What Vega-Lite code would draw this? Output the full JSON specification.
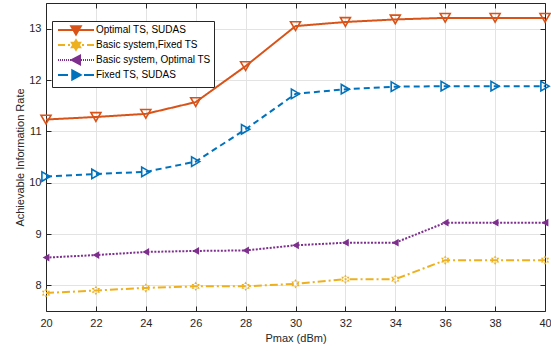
{
  "$schema": "https://vega.github.io/schema/vega-lite/v6.json",
  "width": 499,
  "height": 308,
  "autosize": "none",
  "padding": {"left": 46, "top": 3, "right": 6, "bottom": 40},
  "background": "white",
  "config": {
    "view": {"stroke": null},
    "font": "Liberation Sans",
    "axis": {
      "labelFont": "Liberation Sans",
      "titleFont": "Liberation Sans",
      "labelFontSize": 11,
      "titleFontSize": 11,
      "titleFontWeight": "normal",
      "labelColor": "#262626",
      "titleColor": "#262626",
      "domainColor": "#262626",
      "tickColor": "#262626",
      "gridColor": "#e3e3e3",
      "gridWidth": 1,
      "domainWidth": 1,
      "tickWidth": 1
    },
    "legend": {"strokeColor": "#262626", "fillColor": "white", "padding": 3}
  },
  "data": {
    "values": [
      {"p": 20, "rate": 11.23, "series": "Optimal TS, SUDAS"},
      {"p": 22, "rate": 11.28, "series": "Optimal TS, SUDAS"},
      {"p": 24, "rate": 11.34, "series": "Optimal TS, SUDAS"},
      {"p": 26, "rate": 11.57, "series": "Optimal TS, SUDAS"},
      {"p": 28, "rate": 12.27, "series": "Optimal TS, SUDAS"},
      {"p": 30, "rate": 13.05, "series": "Optimal TS, SUDAS"},
      {"p": 32, "rate": 13.13, "series": "Optimal TS, SUDAS"},
      {"p": 34, "rate": 13.18, "series": "Optimal TS, SUDAS"},
      {"p": 36, "rate": 13.21, "series": "Optimal TS, SUDAS"},
      {"p": 38, "rate": 13.21, "series": "Optimal TS, SUDAS"},
      {"p": 40, "rate": 13.21, "series": "Optimal TS, SUDAS"},
      {"p": 20, "rate": 7.85, "series": "Basic system,Fixed TS"},
      {"p": 22, "rate": 7.9, "series": "Basic system,Fixed TS"},
      {"p": 24, "rate": 7.95, "series": "Basic system,Fixed TS"},
      {"p": 26, "rate": 7.98, "series": "Basic system,Fixed TS"},
      {"p": 28, "rate": 7.98, "series": "Basic system,Fixed TS"},
      {"p": 30, "rate": 8.03, "series": "Basic system,Fixed TS"},
      {"p": 32, "rate": 8.12, "series": "Basic system,Fixed TS"},
      {"p": 34, "rate": 8.12, "series": "Basic system,Fixed TS"},
      {"p": 36, "rate": 8.49, "series": "Basic system,Fixed TS"},
      {"p": 38, "rate": 8.49, "series": "Basic system,Fixed TS"},
      {"p": 40, "rate": 8.49, "series": "Basic system,Fixed TS"},
      {"p": 20, "rate": 8.54, "series": "Basic system, Optimal TS"},
      {"p": 22, "rate": 8.59, "series": "Basic system, Optimal TS"},
      {"p": 24, "rate": 8.65, "series": "Basic system, Optimal TS"},
      {"p": 26, "rate": 8.67, "series": "Basic system, Optimal TS"},
      {"p": 28, "rate": 8.68, "series": "Basic system, Optimal TS"},
      {"p": 30, "rate": 8.78, "series": "Basic system, Optimal TS"},
      {"p": 32, "rate": 8.83, "series": "Basic system, Optimal TS"},
      {"p": 34, "rate": 8.83, "series": "Basic system, Optimal TS"},
      {"p": 36, "rate": 9.22, "series": "Basic system, Optimal TS"},
      {"p": 38, "rate": 9.22, "series": "Basic system, Optimal TS"},
      {"p": 40, "rate": 9.22, "series": "Basic system, Optimal TS"},
      {"p": 20, "rate": 10.12, "series": "Fixed TS, SUDAS"},
      {"p": 22, "rate": 10.17, "series": "Fixed TS, SUDAS"},
      {"p": 24, "rate": 10.21, "series": "Fixed TS, SUDAS"},
      {"p": 26, "rate": 10.41, "series": "Fixed TS, SUDAS"},
      {"p": 28, "rate": 11.04, "series": "Fixed TS, SUDAS"},
      {"p": 30, "rate": 11.73, "series": "Fixed TS, SUDAS"},
      {"p": 32, "rate": 11.82, "series": "Fixed TS, SUDAS"},
      {"p": 34, "rate": 11.87, "series": "Fixed TS, SUDAS"},
      {"p": 36, "rate": 11.88, "series": "Fixed TS, SUDAS"},
      {"p": 38, "rate": 11.88, "series": "Fixed TS, SUDAS"},
      {"p": 40, "rate": 11.88, "series": "Fixed TS, SUDAS"}
    ]
  },
  "encoding": {
    "x": {"field": "p", "type": "quantitative", "scale": {"domain": [20, 40], "nice": false, "zero": false}},
    "y": {"field": "rate", "type": "quantitative", "scale": {"domain": [7.5, 13.5], "nice": false, "zero": false}}
  },
  "layer": [
    {
      "mark": {"type": "line", "strokeWidth": 2},
      "encoding": {
        "x": {"field": "p", "type": "quantitative", "axis": {"orient": "bottom", "title": "Pmax (dBm)", "values": [20,22,24,26,28,30,32,34,36,38,40], "tickSize": -5, "labelPadding": 11, "titlePadding": 4, "grid": true, "labelFlush": false}},
        "y": {"field": "rate", "type": "quantitative", "axis": {"orient": "left", "title": "Achievable Information Rate", "values": [8,9,10,11,12,13], "tickSize": -5, "labelPadding": 10, "titlePadding": 3, "grid": true}},
        "stroke": {"field": "series", "type": "nominal", "legend": null, "scale": {"domain": ["Optimal TS, SUDAS", "Basic system,Fixed TS", "Basic system, Optimal TS", "Fixed TS, SUDAS"], "range": ["#D95319", "#EDB120", "#7E2F8E", "#0072BD"]}},
        "strokeDash": {"field": "series", "type": "nominal", "legend": null, "scale": {"domain": ["Optimal TS, SUDAS", "Basic system,Fixed TS", "Basic system, Optimal TS", "Fixed TS, SUDAS"], "range": [[1, 0], [8, 3, 2, 3], [2, 1.5], [6, 4]]}}
      }
    },
    {
      "transform": [{"filter": "datum.series == 'Optimal TS, SUDAS'"}],
      "mark": {"type": "point", "shape": "triangle-down", "size": 100, "filled": false, "color": "#D95319", "strokeWidth": 1.6, "opacity": 1},
      "encoding": {"x": {"field": "p", "type": "quantitative", "axis": null}, "y": {"field": "rate", "type": "quantitative", "axis": null}}
    },
    {
      "transform": [{"filter": "datum.series == 'Basic system,Fixed TS'"}],
      "mark": {"type": "point", "shape": "M0,-1L0.866,0.5L-0.866,0.5ZM0,1L0.866,-0.5L-0.866,-0.5Z", "size": 90, "filled": true, "color": "#EDB120", "opacity": 1},
      "encoding": {"x": {"field": "p", "type": "quantitative", "axis": null}, "y": {"field": "rate", "type": "quantitative", "axis": null}}
    },
    {
      "transform": [{"filter": "datum.series == 'Basic system, Optimal TS'"}],
      "mark": {"type": "point", "shape": "triangle-left", "size": 60, "filled": true, "color": "#7E2F8E", "opacity": 1},
      "encoding": {"x": {"field": "p", "type": "quantitative", "axis": null}, "y": {"field": "rate", "type": "quantitative", "axis": null}}
    },
    {
      "transform": [{"filter": "datum.series == 'Fixed TS, SUDAS'"}],
      "mark": {"type": "point", "shape": "triangle-right", "size": 90, "filled": false, "color": "#0072BD", "strokeWidth": 1.6, "opacity": 1},
      "encoding": {"x": {"field": "p", "type": "quantitative", "axis": null}, "y": {"field": "rate", "type": "quantitative", "axis": null}}
    },
    {
      "transform": [{"filter": "datum.rate < 0"}],
      "mark": {"type": "point", "filled": false, "strokeWidth": 2, "opacity": 1},
      "encoding": {
        "x": {"field": "p", "type": "quantitative", "axis": {"orient": "top", "values": [20,22,24,26,28,30,32,34,36,38,40], "labels": false, "title": null, "tickSize": -5, "grid": false}},
        "y": {"field": "rate", "type": "quantitative", "axis": {"orient": "right", "values": [8,9,10,11,12,13], "labels": false, "title": null, "tickSize": -5, "grid": false}},
        "color": {"field": "series", "type": "nominal", "scale": {"domain": ["Optimal TS, SUDAS", "Basic system,Fixed TS", "Basic system, Optimal TS", "Fixed TS, SUDAS"], "range": ["#D95319", "#EDB120", "#7E2F8E", "#0072BD"]},
          "legend": {"title": null, "orient": "none", "legendX": 6, "legendY": 18, "padding": 3, "strokeColor": "#262626", "fillColor": "white", "symbolOffset": 15, "labelOffset": 14, "labelFont": "Liberation Sans", "labelFontSize": 10, "labelColor": "#000000", "rowPadding": -3.6, "labelLimit": 300, "symbolStrokeWidth": 2}},
        "shape": {"field": "series", "type": "nominal", "scale": {"domain": ["Optimal TS, SUDAS", "Basic system,Fixed TS", "Basic system, Optimal TS", "Fixed TS, SUDAS"],
          "range": [
            "M-3.6,0H3.6M-0.95,-0.75L0.95,-0.75L0,0.9ZM-0.475,-0.475L0.475,-0.475L0,0.35ZM-0.14,-0.28L0.14,-0.28L0,0.04Z",
            "M-3.6,0H-2.2M-1.6,0H-1.2M1.2,0H1.6M2.2,0H3.6M0,-0.95L0.82,0.47L-0.82,0.47ZM0,0.95L0.82,-0.47L-0.82,-0.47ZM0,-0.47L0.41,0.24L-0.41,0.24ZM0,0.47L0.41,-0.24L-0.41,-0.24ZM0,-0.15L0.13,0.08L-0.13,0.08Z",
            "M-3.6,0H-3.4M-3.2,0H-3.0M-2.8,0H-2.6M-2.4,0H-2.2M-2.0,0H-1.8M-1.6,0H-1.4M-1.2,0H-1.0M1.0,0H1.2M1.4,0H1.6M1.8,0H2.0M2.2,0H2.4M2.6,0H2.8M3.0,0H3.2M3.4,0H3.6M-0.8,0L0.8,-0.85L0.8,0.85ZM-0.27,0L0.53,-0.43L0.53,0.43ZM0.11,0L0.35,-0.13L0.35,0.13Z",
            "M-3.6,0H-1.6M1.6,0H3.6M0.9,0L-0.75,-0.9L-0.75,0.9ZM0.35,0L-0.475,-0.45L-0.475,0.45ZM-0.035,0L-0.28,-0.135L-0.28,0.135Z"
          ]},
          "legend": {"title": null, "orient": "none", "legendX": 6, "legendY": 18, "padding": 3, "strokeColor": "#262626", "fillColor": "white", "symbolOffset": 15, "labelOffset": 14, "labelFont": "Liberation Sans", "labelFontSize": 10, "labelColor": "#000000", "rowPadding": -3.6, "labelLimit": 300, "symbolStrokeWidth": 2}}
      }
    }
  ],
  "resolve": {"axis": {"x": "independent", "y": "independent"}, "scale": {"shape": "independent", "color": "independent"}}
}
